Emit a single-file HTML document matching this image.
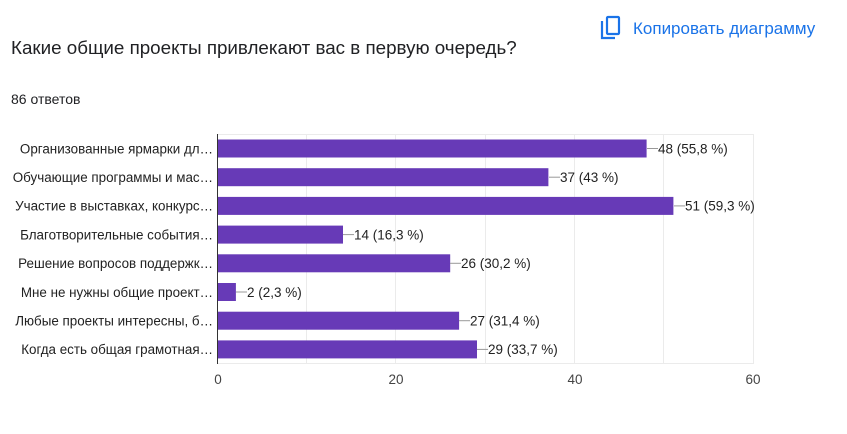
<!DOCTYPE html>
<html><head><meta charset="utf-8"><style>
body{margin:0;background:#fff;width:847px;height:429px;overflow:hidden;font-family:"Liberation Sans",Arial,sans-serif;}
</style></head><body>
<svg width="847" height="429" xmlns="http://www.w3.org/2000/svg" font-family="Liberation Sans, Arial, sans-serif">
<rect width="847" height="429" fill="#fff"/>
<g fill="none" stroke="#1a73e8" stroke-width="2.2">
<path d="M602 21 v17 h13"/>
<rect x="607" y="17" width="12" height="17" rx="1"/>
</g>
<text x="633" y="34" font-size="17" fill="#1a73e8">Копировать диаграмму</text>
<text x="11" y="54" font-size="18.8" fill="#202124">Какие общие проекты привлекают вас в первую очередь?</text>
<text x="11" y="104" font-size="14" fill="#202124">86 ответов</text>
<g stroke="#ebebeb" stroke-width="1">
<line x1="306.5" y1="134" x2="306.5" y2="364"/>
<line x1="395.5" y1="134" x2="395.5" y2="364"/>
<line x1="485.5" y1="134" x2="485.5" y2="364"/>
<line x1="574.5" y1="134" x2="574.5" y2="364"/>
<line x1="663.5" y1="134" x2="663.5" y2="364"/>
<line x1="753.5" y1="134" x2="753.5" y2="364"/>
<line x1="217" y1="134.5" x2="754" y2="134.5"/>
<line x1="217" y1="363.5" x2="754" y2="363.5"/>
</g>
<g fill="#673ab7">
<rect x="218" y="139.5" width="428.6" height="18"/>
<rect x="218" y="168.2" width="330.4" height="18"/>
<rect x="218" y="196.9" width="455.4" height="18"/>
<rect x="218" y="225.6" width="125" height="18"/>
<rect x="218" y="254.3" width="232.2" height="18"/>
<rect x="218" y="283" width="17.9" height="18"/>
<rect x="218" y="311.7" width="241.1" height="18"/>
<rect x="218" y="340.4" width="259" height="18"/>
</g>
<line x1="217.5" y1="134" x2="217.5" y2="364" stroke="#333" stroke-width="1"/>
<g stroke="#999" stroke-width="1">
<line x1="647" y1="148.5" x2="658" y2="148.5"/>
<line x1="549" y1="177.2" x2="560" y2="177.2"/>
<line x1="674" y1="205.9" x2="685" y2="205.9"/>
<line x1="343" y1="234.6" x2="354" y2="234.6"/>
<line x1="450" y1="263.3" x2="461" y2="263.3"/>
<line x1="236" y1="292" x2="247" y2="292"/>
<line x1="459" y1="320.7" x2="470" y2="320.7"/>
<line x1="477" y1="349.4" x2="488" y2="349.4"/>
</g>
<g font-size="13.5" fill="#222">
<text x="658" y="153.3">48 (55,8 %)</text>
<text x="560" y="182">37 (43 %)</text>
<text x="685" y="210.7">51 (59,3 %)</text>
<text x="354" y="239.4">14 (16,3 %)</text>
<text x="461" y="268.1">26 (30,2 %)</text>
<text x="247" y="296.8">2 (2,3 %)</text>
<text x="470" y="325.5">27 (31,4 %)</text>
<text x="488" y="354.2">29 (33,7 %)</text>
</g>
<g font-size="13.4" fill="#222" text-anchor="end">
<text x="213" y="153.3">Организованные ярмарки дл…</text>
<text x="213" y="182">Обучающие программы и мас…</text>
<text x="213" y="210.7">Участие в выставках, конкурс…</text>
<text x="213" y="239.4">Благотворительные события…</text>
<text x="213" y="268.1">Решение вопросов поддержк…</text>
<text x="213" y="296.8">Мне не нужны общие проект…</text>
<text x="213" y="325.5">Любые проекты интересны, б…</text>
<text x="213" y="354.2">Когда есть общая грамотная…</text>
</g>
<g font-size="13.5" fill="#444" text-anchor="middle">
<text x="218" y="384">0</text>
<text x="396" y="384">20</text>
<text x="575" y="384">40</text>
<text x="753" y="384">60</text>
</g>
</svg>
</body></html>
